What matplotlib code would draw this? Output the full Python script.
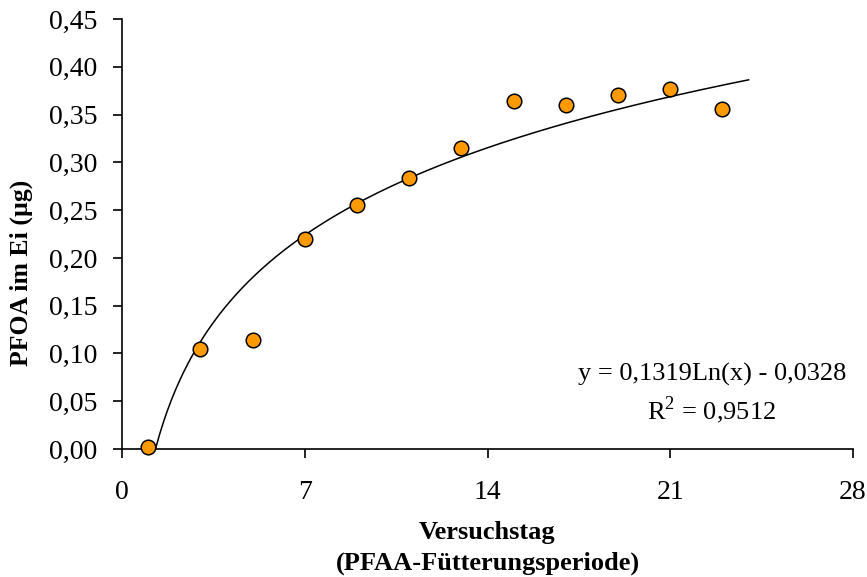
import matplotlib.pyplot as plt
import numpy as np

# Versuchstag vs. PFOA im Ei
days = [1, 3, 5, 7, 9, 11, 13, 15, 17, 19, 21, 23]
pfoa = [0.002, 0.105, 0.114, 0.220, 0.255, 0.284, 0.315, 0.364, 0.360, 0.370, 0.377, 0.356]

# logarithmic trend line
coef_a = 0.1319
coef_b = -0.0328
trend_start = 1.28
trend_end = 24

plt.rcParams['font.family'] = ['Liberation Serif', 'DejaVu Serif']
plt.rcParams['mathtext.fontset'] = 'custom'
plt.rcParams['mathtext.rm'] = 'Liberation Serif'

fig = plt.figure(figsize=(8.67, 5.77), dpi=100)
ax = fig.add_axes([0.1407, 0.2218, 0.8432, 0.7452])

xt = np.linspace(trend_start, trend_end, 300)
ax.plot(xt, coef_a * np.log(xt) + coef_b, color='black', linewidth=1.1, zorder=2)
ax.scatter(days, pfoa, s=110, color='#FF9900', edgecolor='black', linewidth=1.1, zorder=3, clip_on=False)

ax.set_xlim(0, 28)
ax.set_ylim(0, 0.45)
ax.set_xticks([0, 7, 14, 21, 28])
yt = np.arange(0, 0.451, 0.05)
ax.set_yticks(yt)
ax.set_yticklabels([f'{v:.2f}'.replace('.', ',') for v in yt])

for s in ['top', 'right']:
    ax.spines[s].set_visible(False)
for s in ['left', 'bottom']:
    ax.spines[s].set_linewidth(1.2)
ax.tick_params(direction='out', length=6.5, width=1.2, labelsize=20)
ax.tick_params(axis='y', pad=11)
ax.tick_params(axis='x', pad=16)

ax.set_xlabel('Versuchstag\n(PFAA-Fütterungsperiode)', fontsize=19, fontweight='bold', labelpad=11, linespacing=1.42)
ax.set_ylabel('PFOA im Ei (µg)', fontsize=18.5, fontweight='bold')
ax.yaxis.set_label_coords(-0.122, 0.41)

ax.text(0.807, 0.160, 'y = 0,1319Ln(x) - 0,0328', transform=ax.transAxes,
        ha='center', va='baseline', fontsize=19)
ax.text(0.807, 0.068, r'R$^{\mathrm{2}}$ = 0,9512', transform=ax.transAxes,
        ha='center', va='baseline', fontsize=19)

fig.savefig('out.png', dpi=100)
